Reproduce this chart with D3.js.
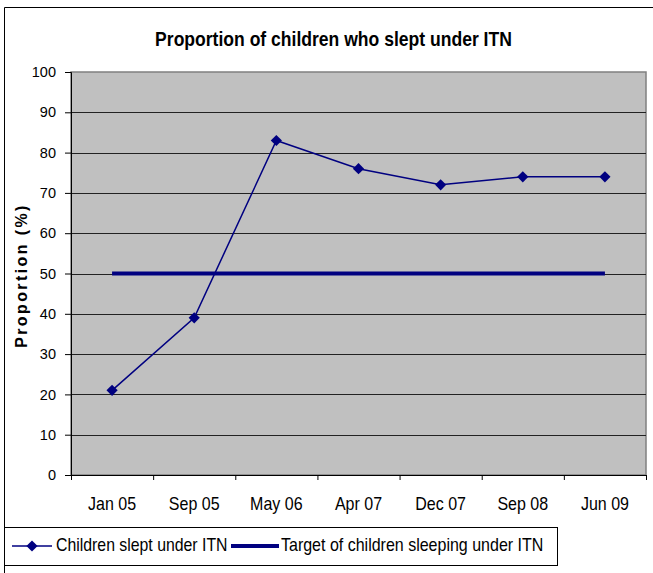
<!DOCTYPE html>
<html lang="en">
<head>
<meta charset="UTF-8">
<title>Proportion of children who slept under ITN</title>
<script src="https://cdn.jsdelivr.net/npm/d3@7"></script>
<style>
body { margin: 0; background: #fff; font-family: "Liberation Sans", Arial, sans-serif; }
svg { display: block; }
</style>
</head>
<body>
<svg width="653" height="573"></svg>
<script>
var categories = ["Jan 05", "Sep 05", "May 06", "Apr 07", "Dec 07", "Sep 08", "Jun 09"];
var slept = [21, 39, 83, 76, 72, 74, 74];
var target = [50, 50, 50, 50, 50, 50, 50];
var yTicks = [0, 10, 20, 30, 40, 50, 60, 70, 80, 90, 100];
var seriesNames = ["Children slept under ITN", "Target of children sleeping under ITN"];

var svg = d3.select("svg"),
    margin = {top: 72, right: 7, bottom: 98, left: 71},
    width = +svg.attr("width") - margin.left - margin.right,
    height = +svg.attr("height") - margin.top - margin.bottom;

var navy = "#000080";
var font = "Liberation Sans, Arial, sans-serif";

// outer frame (right/bottom cut off)
svg.append("path")
  .attr("d", "M4.5,580V7.5H660")
  .attr("fill", "none").attr("stroke", "#000").attr("stroke-width", 1);

// narrow-looking text: tall font squeezed horizontally
function label(sel, x, y, size, sx) {
  return sel.append("g").attr("transform", "translate(" + x + "," + y + ") scale(" + sx + ",1)")
    .append("text").style("font-size", size + "px").style("font-family", font);
}

label(svg, 333.5, 46, 19.5, 0.9)
  .attr("text-anchor", "middle").style("font-weight", "bold")
  .text("Proportion of children who slept under ITN");

var x = d3.scaleBand().domain(categories).range([0, width]);
var y = d3.scaleLinear().domain([0, 100]).range([height, 0]);

var g = svg.append("g").attr("transform", "translate(" + margin.left + "," + margin.top + ")");

g.append("rect").attr("width", width).attr("height", height)
  .attr("fill", "#c0c0c0").attr("stroke", "#808080").attr("stroke-width", 1.5);

g.selectAll(".grid").data(yTicks.slice(1, -1)).enter().append("line")
  .attr("x1", 0).attr("x2", width)
  .attr("y1", function(d) { return Math.round(y(d)) + 0.5; })
  .attr("y2", function(d) { return Math.round(y(d)) + 0.5; })
  .attr("stroke", "#222").attr("stroke-width", 1);

var yAxis = g.append("g")
  .call(d3.axisLeft(y).tickValues(yTicks).tickSize(6).tickPadding(9));
yAxis.select(".domain").attr("stroke", "#000");
yAxis.selectAll("text").style("font-size", "14.5px").style("font-family", font).attr("fill", "#000");

var xAxis = g.append("g").attr("transform", "translate(0," + height + ")")
  .call(d3.axisBottom(x).tickSize(0).tickPadding(22));
xAxis.select(".domain").attr("stroke", "#000");
xAxis.selectAll("text").style("font-size", "18px").style("font-family", font)
  .attr("fill", "#000").attr("transform", "scale(0.89,1)");
// category boundary ticks
xAxis.selectAll(".bt").data(categories.concat([null])).enter().append("line")
  .attr("x1", function(d, i) { return i * x.step() + 0.5; })
  .attr("x2", function(d, i) { return i * x.step() + 0.5; })
  .attr("y1", 0).attr("y2", 5).attr("stroke", "#000");

svg.append("text")
  .attr("transform", "translate(27," + (margin.top + height / 2 + 2) + ") rotate(-90)")
  .attr("text-anchor", "middle")
  .style("font-weight", "bold").style("font-size", "16px").style("letter-spacing", "2.4px")
  .text("Proportion (%)");

var cx = function(i) { return x(categories[i]) + x.bandwidth() / 2; };

var tline = d3.line().x(function(d, i) { return cx(i); }).y(function(d) { return y(d); });
g.append("path").datum(target).attr("d", tline)
  .attr("fill", "none").attr("stroke", navy).attr("stroke-width", 4);

g.append("path").datum(slept).attr("d", tline)
  .attr("fill", "none").attr("stroke", navy).attr("stroke-width", 1.5);

var diamond = d3.symbol().type(d3.symbolDiamond2).size(80);
g.selectAll(".pt").data(slept).enter().append("path")
  .attr("d", diamond)
  .attr("transform", function(d, i) { return "translate(" + cx(i) + "," + y(d) + ")"; })
  .attr("fill", navy);

// legend
var lg = svg.append("g");
lg.append("rect").attr("x", 4.5).attr("y", 527.5).attr("width", 553).attr("height", 38)
  .attr("fill", "#fff").attr("stroke", "#000");
lg.append("line").attr("x1", 12).attr("x2", 52).attr("y1", 546).attr("y2", 546)
  .attr("stroke", navy).attr("stroke-width", 1.5);
lg.append("path").attr("d", diamond).attr("transform", "translate(32,546)").attr("fill", navy);
label(lg, 56, 551, 18, 0.88).text(seriesNames[0]);
lg.append("line").attr("x1", 231).attr("x2", 279).attr("y1", 546).attr("y2", 546)
  .attr("stroke", navy).attr("stroke-width", 4);
label(lg, 281, 551, 18, 0.89).text(seriesNames[1]);
</script>
</body>
</html>
